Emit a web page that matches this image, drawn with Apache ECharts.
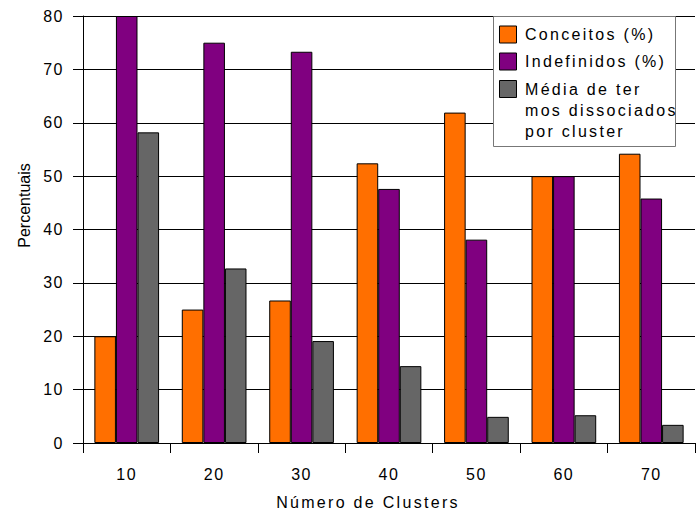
<!DOCTYPE html>
<html>
<head>
<meta charset="utf-8">
<script src="https://cdn.jsdelivr.net/npm/echarts@6/dist/echarts.min.js"></script>
<style>
  html, body { margin: 0; padding: 0; background: #fff; }
  #chart { width: 697px; height: 512px; }
</style>
</head>
<body>
<div id="chart"></div>
<script>
// Categories: number of clusters
const clusters = ['10', '20', '30', '40', '50', '60', '70'];
// Series values (percent)
const conceitos = [20, 25, 26.7, 52.4, 61.9, 50, 54.2];
const indefinidos = [80, 75, 73.3, 47.6, 38.1, 50, 45.8];
const mediaDissociados = [58.2, 32.7, 19.1, 14.4, 4.9, 5.2, 3.4];
// Y axis ticks
const yTicks = [0, 10, 20, 30, 40, 50, 60, 70, 80];
// Legend entries (lines as laid out in the key box)
const seriesNames = ['Conceitos (%)', 'Indefinidos (%)', 'Média de termos dissociados por cluster'];
const legendLines = [['Conceitos (%)'], ['Indefinidos (%)'], ['Média de ter', 'mos dissociados', 'por cluster']];
const colors = ['#ff6f00', '#800080', '#666666'];

const FONT = 'Liberation Sans, Arial, sans-serif';

const chart = echarts.init(document.getElementById('chart'), null, { renderer: 'svg' });

// Key box drawn with graphic elements
const legendGraphics = [{
  type: 'rect',
  shape: { x: 493.5, y: 16.5, width: 182, height: 130 },
  style: { fill: '#fff', stroke: '#777', lineWidth: 1 },
  z: 10
}];
const rowCenters = [34.5, 61.5, 89];
const lineStep = 21.3;
legendLines.forEach((lines, i) => {
  legendGraphics.push({
    type: 'rect',
    shape: { x: 499.5, y: rowCenters[i] - 8.5, width: 17, height: 17 },
    style: { fill: colors[i], stroke: '#000', lineWidth: 1 },
    z: 11
  });
  lines.forEach((t, j) => {
    legendGraphics.push({
      type: 'text',
      x: 525,
      y: rowCenters[i] + j * lineStep,
      style: { text: t, fill: '#000', font: '16px ' + FONT, textAlign: 'left', textVerticalAlign: 'middle' },
      z: 11
    });
  });
});

const option = {
  animation: false,
  backgroundColor: '#fff',
  grid: { left: 83, right: 2, top: 16, bottom: 69, containLabel: false },
  xAxis: {
    type: 'category',
    data: clusters,
    boundaryGap: true,
    axisLine: { show: true, lineStyle: { color: '#000', width: 1 } },
    axisTick: { show: true, inside: false, length: 10, lineStyle: { color: '#000' } },
    axisLabel: { color: '#000', fontSize: 16, fontFamily: FONT, margin: 23 },
    splitLine: { show: false }
  },
  yAxis: {
    type: 'value',
    min: yTicks[0],
    max: yTicks[yTicks.length - 1],
    interval: 10,
    axisLine: { show: true, lineStyle: { color: '#000', width: 1 } },
    axisTick: { show: true, inside: false, length: 10, lineStyle: { color: '#000' } },
    axisLabel: { color: '#000', fontSize: 16, fontFamily: FONT, margin: 19 },
    splitLine: { show: true, lineStyle: { color: '#000', width: 1 } }
  },
  series: [conceitos, indefinidos, mediaDissociados].map((vals, i) => ({
    name: seriesNames[i],
    type: 'bar',
    data: vals,
    barGap: '0%',
    barCategoryGap: '26%',
    itemStyle: { color: colors[i], borderColor: '#000', borderWidth: 1 },
    emphasis: { disabled: true }
  })),
  graphic: legendGraphics.concat([
    {
      type: 'text',
      x: 368, y: 502,
      style: { text: 'Número de Clusters', fill: '#000', font: '16px ' + FONT, textAlign: 'center', textVerticalAlign: 'middle' }
    },
    {
      type: 'text',
      x: 24, y: 205.5,
      rotation: Math.PI / 2,
      style: { text: 'Percentuais', fill: '#000', font: '16px ' + FONT, textAlign: 'center', textVerticalAlign: 'middle' }
    }
  ])
};

chart.setOption(option);

// Widen the tracking of the tick labels, the key and the x-axis title
function applyTracking() {
  const wide = new Set(['Número de Clusters'].concat(...legendLines));
  document.querySelectorAll('#chart text').forEach(el => {
    const t = el.textContent;
    if (t === 'Percentuais') return;
    el.setAttribute('letter-spacing', wide.has(t) ? '2.3' : '1.5');
  });
}
applyTracking();
chart.on('finished', applyTracking);
</script>
</body>
</html>
